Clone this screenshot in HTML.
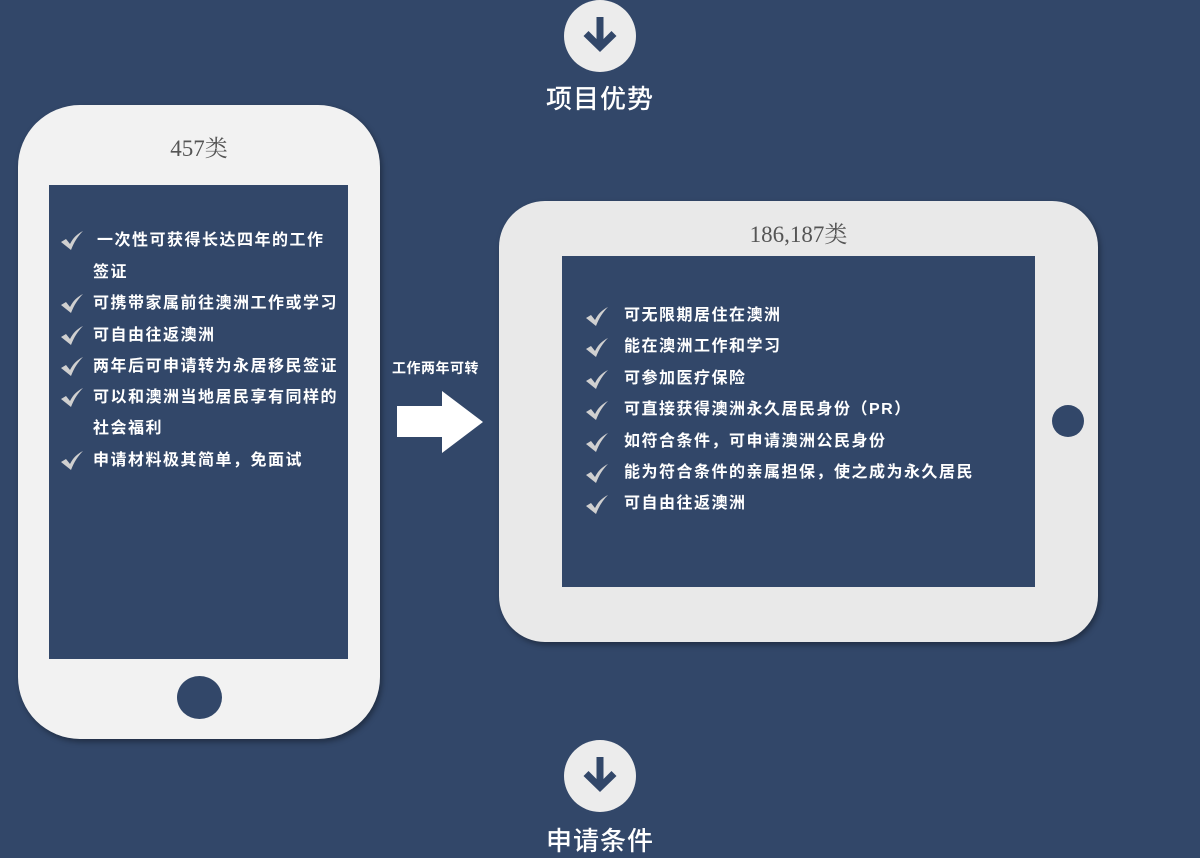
<!DOCTYPE html>
<html><head><meta charset="utf-8"><style>
*{margin:0;padding:0;box-sizing:border-box}
body{width:1200px;height:852px;background:#324769;position:relative;overflow:hidden;font-family:"Liberation Sans","Noto Sans CJK SC",sans-serif}
.abs{position:absolute}
.circ{position:absolute;width:72px;height:72px;border-radius:50%;background:#ececec}
.h{position:absolute;color:#fff;font-size:26px;font-weight:500;width:200px;text-align:center;letter-spacing:1px}
.dev{position:absolute;background:#f2f2f2;box-shadow:2px 3px 6px rgba(0,0,0,.35)}
.scr{position:absolute;background:#324769}
.t{position:absolute;font-family:"Liberation Serif","Noto Serif CJK SC",serif;color:#555;font-size:23px;text-align:center}
.li{position:absolute;color:#fff;font-size:16px;font-weight:bold;letter-spacing:1.5px;white-space:nowrap;line-height:20px}
.ck{position:absolute;width:22px;height:20px}
</style></head><body>
<div class="circ" style="left:564px;top:0px"></div>
<svg class="abs" style="left:582px;top:14px" width="36" height="42" viewBox="0 0 36 42"><path d="M14.5 3h7v22l8-8 5 5L18 38 1.5 22l5-5 8 8z" fill="#324769"/></svg>
<div class="h" style="left:500px;top:79px">项目优势</div>

<div class="dev" style="left:18px;top:105px;width:362px;height:634px;border-radius:62px"></div>
<div class="t" style="left:18px;top:130px;width:362px">457类</div>
<div class="scr" style="left:49px;top:185px;width:299px;height:474px"></div>
<div class="abs" style="left:177px;top:676px;width:45px;height:43px;border-radius:50%;background:#324769"></div>

<div class="dev" style="left:499px;top:201px;width:599px;height:441px;border-radius:46px;background:#e9e9e9"></div>
<div class="t" style="left:499px;top:216px;width:599px">186,187类</div>
<div class="scr" style="left:562px;top:256px;width:473px;height:331px"></div>
<div class="abs" style="left:1052px;top:405px;width:32px;height:32px;border-radius:50%;background:#324769"></div>

<div class="li" style="left:392px;top:358px;font-size:14px;letter-spacing:0.5px">工作两年可转</div>
<svg class="abs" style="left:397px;top:391px" width="88" height="62"><path d="M0 15h45V0l41 31-41 31V46H0z" fill="#fff"/></svg>

<div class="circ" style="left:564px;top:740px"></div>
<svg class="abs" style="left:582px;top:754px" width="36" height="42" viewBox="0 0 36 42"><path d="M14.5 3h7v22l8-8 5 5L18 38 1.5 22l5-5 8 8z" fill="#324769"/></svg>
<div class="h" style="left:500px;top:821px">申请条件</div>

<svg width="0" height="0" style="position:absolute"><defs><symbol id="c" viewBox="0 0 22 20"><path d="M0 11l5-3 4 5C12 7 16 3 22 0c-5 5-9 11-12 19z" fill="#d0d0d0"/></symbol></defs></svg>

<!-- phone list -->
<svg class="ck" style="left:61px;top:231px"><use href="#c"/></svg><div class="li" style="left:97px;top:231px">一次性可获得长达四年的工作</div>
<div class="li" style="left:93px;top:263px">签证</div>
<svg class="ck" style="left:61px;top:294px"><use href="#c"/></svg><div class="li" style="left:93px;top:294px">可携带家属前往澳洲工作或学习</div>
<svg class="ck" style="left:61px;top:326px"><use href="#c"/></svg><div class="li" style="left:93px;top:326px">可自由往返澳洲</div>
<svg class="ck" style="left:61px;top:357px"><use href="#c"/></svg><div class="li" style="left:93px;top:357px">两年后可申请转为永居移民签证</div>
<svg class="ck" style="left:61px;top:388px"><use href="#c"/></svg><div class="li" style="left:93px;top:388px">可以和澳洲当地居民享有同样的</div>
<div class="li" style="left:93px;top:419px">社会福利</div>
<svg class="ck" style="left:61px;top:451px"><use href="#c"/></svg><div class="li" style="left:93px;top:451px">申请材料极其简单，免面试</div>

<!-- tablet list -->
<svg class="ck" style="left:586px;top:307px"><use href="#c"/></svg><div class="li" style="left:624px;top:306px">可无限期居住在澳洲</div>
<svg class="ck" style="left:586px;top:338px"><use href="#c"/></svg><div class="li" style="left:624px;top:337px">能在澳洲工作和学习</div>
<svg class="ck" style="left:586px;top:370px"><use href="#c"/></svg><div class="li" style="left:624px;top:369px">可参加医疗保险</div>
<svg class="ck" style="left:586px;top:401px"><use href="#c"/></svg><div class="li" style="left:624px;top:400px">可直接获得澳洲永久居民身份（PR）</div>
<svg class="ck" style="left:586px;top:433px"><use href="#c"/></svg><div class="li" style="left:624px;top:432px">如符合条件，可申请澳洲公民身份</div>
<svg class="ck" style="left:586px;top:464px"><use href="#c"/></svg><div class="li" style="left:624px;top:463px">能为符合条件的亲属担保，使之成为永久居民</div>
<svg class="ck" style="left:586px;top:495px"><use href="#c"/></svg><div class="li" style="left:624px;top:494px">可自由往返澳洲</div>
</body></html>
